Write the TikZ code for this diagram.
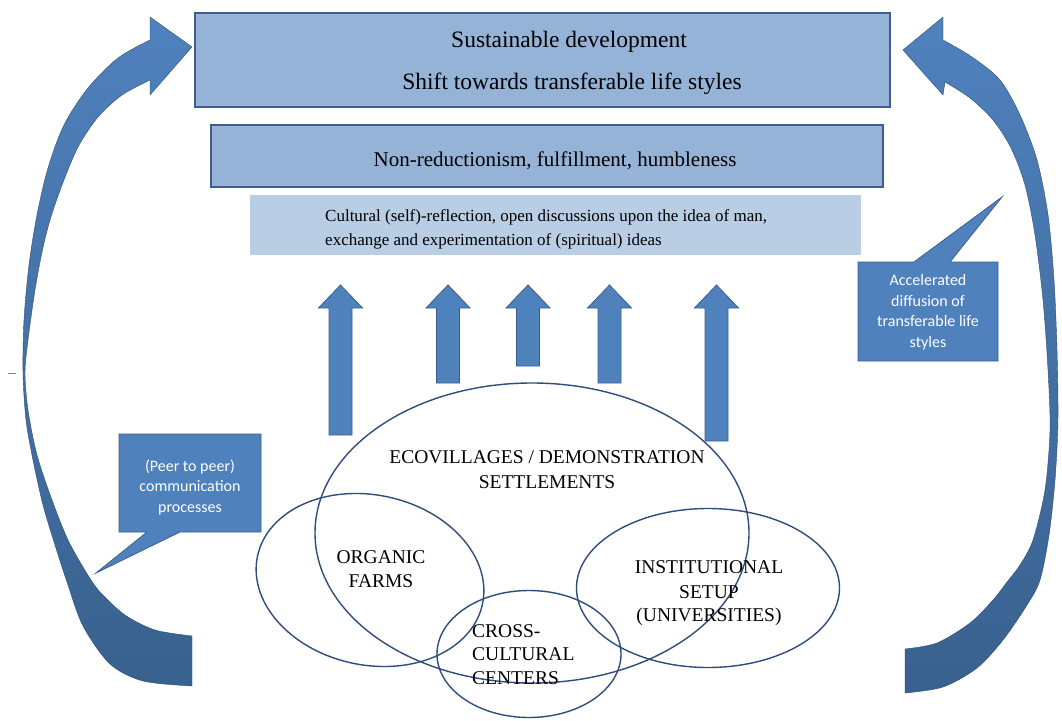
\documentclass[tikz,border=0pt]{standalone}
\usepackage{fontspec}
\setmainfont{Liberation Serif}
\newfontfamily\calfont{Carlito}
\usetikzlibrary{shapes.geometric}
\definecolor{boxfill}{HTML}{95B3D7}
\definecolor{boxdraw}{HTML}{3F5F8A}
\definecolor{lightfill}{HTML}{B9CDE5}
\definecolor{blockblue}{HTML}{4F81BD}
\definecolor{blockdraw}{HTML}{3A5F8E}
\definecolor{ellline}{HTML}{2F4D7C}
\definecolor{arrtop}{HTML}{4F81BD}
\definecolor{arrbot}{HTML}{39618F}
\begin{document}
\begin{tikzpicture}[x=1pt,y=-1pt,
  bigbox/.style={draw=boxdraw, line width=1.5pt, fill=boxfill, inner sep=0pt, rectangle},
  lightbox/.style={fill=lightfill, inner sep=0pt, rectangle},
  blockarrow/.style={fill=blockblue, draw=blockdraw, line width=0.8pt, line join=miter},
  ell/.style={ellipse, draw=ellline, line width=1.4pt, inner sep=0pt},
  callout/.style={fill=blockblue, draw=blockdraw, line width=0.8pt, line join=miter},
  calltext/.style={font=\calfont\fontsize{16}{20.5}\selectfont, text=white, align=center, inner sep=0pt},
  eltext/.style={font=\fontsize{19.5}{24}\selectfont, inner sep=0pt, anchor=base},
  bigarrow/.style={top color=arrtop, bottom color=arrbot, draw=arrbot!80!black, line width=0.4pt}]
\useasboundingbox[fill=white] (0,0) rectangle (1062,720);

% top boxes
\node[bigbox, minimum width=695pt, minimum height=94pt] (sd) at (542.5,60) {};
\node[font=\fontsize{23.5}{28}\selectfont, inner sep=0pt, anchor=base] (sdt1) at (569,47) {Sustainable development};
\node[font=\fontsize{23.5}{28}\selectfont, inner sep=0pt, anchor=base] (sdt2) at (572,89) {Shift towards transferable life styles};
\node[bigbox, minimum width=672pt, minimum height=62pt] (nr) at (547,156) {};
\node[font=\fontsize{21}{25}\selectfont, inner sep=0pt, anchor=base] (nrt) at (555,166) {Non-reductionism, fulfillment, humbleness};
\node[lightbox, minimum width=611pt, minimum height=60pt] (cu) at (555.5,225) {};
\node[font=\fontsize{17}{24}\selectfont, inner sep=0pt, anchor=base west] (cut1) at (325,221) {Cultural (self)-reflection, open discussions upon the idea of man,};
\node[font=\fontsize{17}{24}\selectfont, inner sep=0pt, anchor=base west] (cut2) at (325,245) {exchange and experimentation of (spiritual) ideas};

% block arrows
\foreach \cx/\b in {340.5/435, 448/383, 528/366, 609.5/383, 716.5/441}{
  \draw[blockarrow] ({\cx-11.5},\b) -- ({\cx-11.5},308) -- ({\cx-22},308) -- (\cx,285)
    -- ({\cx+22},308) -- ({\cx+11.5},308) -- ({\cx+11.5},\b) -- cycle;
}

% ellipses
\node[ell, minimum width=434pt, minimum height=300pt] (eco) at (532,533) {};
\node[ell, minimum width=230pt, minimum height=170pt, rotate=-12] (org) at (370,580) {};
\node[ell, minimum width=263pt, minimum height=159pt] (ins) at (708,588) {};
\node[ell, minimum width=184pt, minimum height=127pt] (cro) at (529,654) {};

\node[eltext] (ecot1) at (547,463) {ECOVILLAGES / DEMONSTRATION};
\node[eltext] (ecot2) at (547,488) {SETTLEMENTS};
\node[eltext] (orgt1) at (381,563) {ORGANIC};
\node[eltext] (orgt2) at (381,587) {FARMS};
\node[eltext] (inst1) at (709,573) {INSTITUTIONAL};
\node[eltext] (inst2) at (709,598) {SETUP};
\node[eltext] (inst3) at (709,621) {(UNIVERSITIES)};
\node[eltext, anchor=base west] (crot1) at (472,637) {CROSS-};
\node[eltext, anchor=base west] (crot2) at (472,660) {CULTURAL};
\node[eltext, anchor=base west] (crot3) at (472,684) {CENTERS};

% big curved arrows
\shade[bigarrow] plot[smooth] coordinates {(192,686) (143,681) (110,664) (83,626) (67,582) (55,545) (43,505) (33,460) (26,420) (23,373) (24,320) (29,265) (37,215) (48,168) (64,125) (88,88) (118,58) (150,40)}
  -- (150,17) -- (192,47) -- (150,95) -- (150,80)
  -- plot[smooth] coordinates {(150,80) (122,95) (98,117) (78,147) (62,185) (50,220) (42,252) (35,290) (28,340) (25,373) (28,410) (37,455) (52,500) (68,540) (86,572) (100,592) (125,615) (155,630) (192,636)}
  -- cycle;
\shade[bigarrow] plot[smooth] coordinates {(905,693) (943,687) (977,668) (1003,640) (1027,605) (1040,580) (1049,535) (1055,480) (1058,420) (1057,350) (1054,280) (1048,215) (1037,160) (1020,115) (1000,80) (972,57) (943,40)}
  -- (943,17) -- (903,50) -- (943,95) -- (945,82)
  -- plot[smooth] coordinates {(945,82) (970,98) (993,120) (1011,148) (1025,185) (1035,235) (1043,300) (1048,370) (1050,430) (1045,490) (1033,540) (1020,565) (1007,582) (993,600) (970,623) (937,643) (905,649)}
  -- cycle;
\draw[gray, line width=0.8pt] (8,373) -- (16,373);

% callouts
\coordinate (lctip) at (96,573);
\draw[callout] (119,434) -- (261,434) -- (261,532) -- (180,532) -- (lctip) -- (147,532) -- (119,532) -- cycle;
\node[calltext] (lct) at (190,487) {(Peer to peer)\\communication\\processes};
\coordinate (rctip) at (1002,197);
\draw[callout] (858,262) -- (914,262) -- (rctip) -- (950,262) -- (998,262) -- (998,361) -- (858,361) -- cycle;
\node[calltext] (rct) at (928,312) {Accelerated\\diffusion of\\transferable life\\styles};
\end{tikzpicture}
\end{document}
